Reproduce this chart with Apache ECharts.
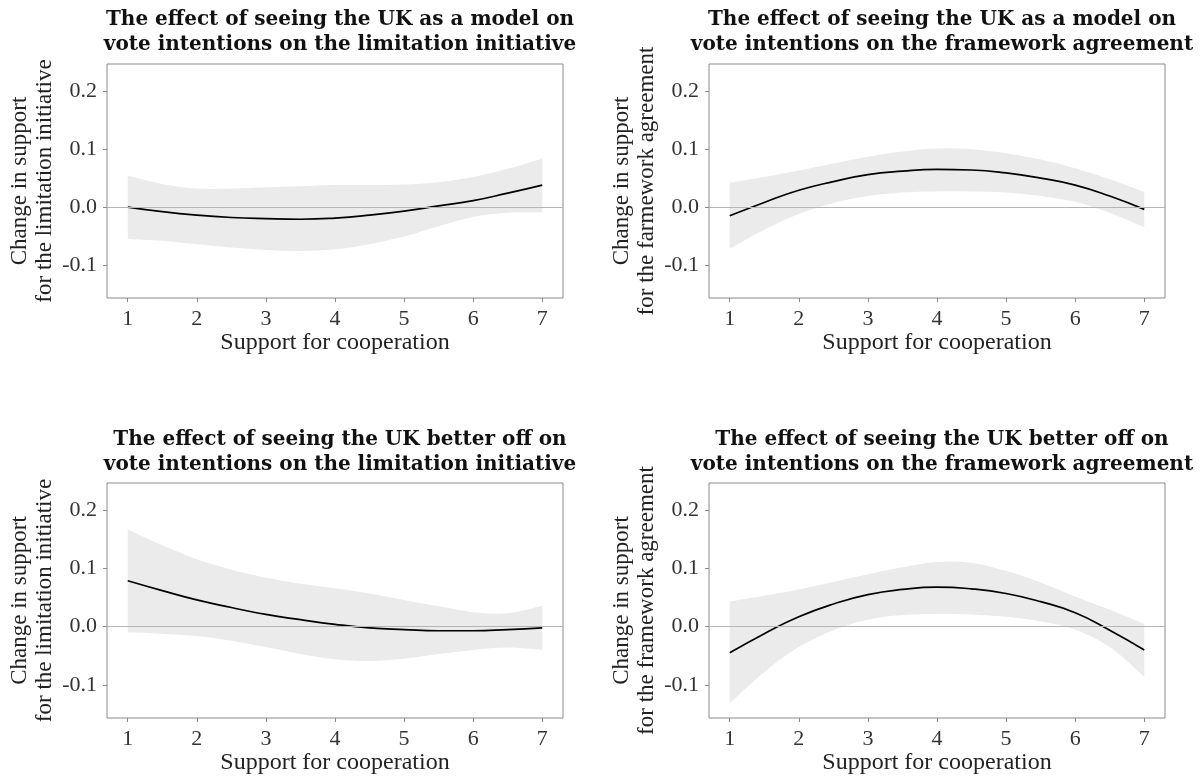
<!DOCTYPE html>
<html>
<head>
<meta charset="utf-8">
<script src="https://cdn.jsdelivr.net/npm/echarts@6/dist/echarts.min.js"></script>
<style>
html,body{margin:0;padding:0;background:#fff;}
#c{width:1202px;height:776px;}
</style>
</head>
<body>
<div id="c"></div>
<script>
// ---- data ----
const xs = [1, 1.5, 2, 2.5, 3, 3.5, 4, 4.5, 5, 5.5, 6, 6.5, 7];
const xTicks = [1, 2, 3, 4, 5, 6, 7];
const yTicks = [-0.1, 0, 0.1, 0.2];

const titles = [
  "The effect of seeing the UK as a model on\nvote intentions on the limitation initiative",
  "The effect of seeing the UK as a model on\nvote intentions on the framework agreement",
  "The effect of seeing the UK better off on\nvote intentions on the limitation initiative",
  "The effect of seeing the UK better off on\nvote intentions on the framework agreement"
];
const yNames = [
  "Change in support\nfor the limitation initiative",
  "Change in support\nfor the farmework agreement",
  "Change in support\nfor the limitation initiative",
  "Change in support\nfor the framework agreement"
];
const xName = "Support for cooperation";

// panel 1: UK as a model, limitation initiative
const fit1   = [0.000,-0.008,-0.014,-0.018,-0.020,-0.021,-0.019,-0.014,-0.007,0.002,0.011,0.024,0.038];
const upper1 = [0.054,0.040,0.032,0.032,0.034,0.036,0.038,0.038,0.039,0.043,0.052,0.066,0.084];
const lower1 = [-0.055,-0.058,-0.064,-0.070,-0.074,-0.076,-0.073,-0.064,-0.051,-0.033,-0.017,-0.010,-0.009];
// panel 2: UK as a model, framework agreement
const fit2   = [-0.015,0.008,0.029,0.044,0.056,0.062,0.065,0.064,0.059,0.050,0.038,0.019,-0.004];
const upper2 = [0.042,0.052,0.063,0.075,0.087,0.096,0.101,0.100,0.093,0.082,0.067,0.048,0.026];
const lower2 = [-0.072,-0.039,-0.012,0.007,0.019,0.025,0.027,0.027,0.025,0.019,0.009,-0.010,-0.035];
// panel 3: UK better off, limitation initiative
const fit3   = [0.079,0.062,0.046,0.033,0.021,0.012,0.004,-0.002,-0.005,-0.007,-0.007,-0.005,-0.002];
const upper3 = [0.167,0.140,0.116,0.098,0.084,0.074,0.066,0.057,0.046,0.035,0.025,0.023,0.036];
const lower3 = [-0.010,-0.012,-0.016,-0.024,-0.035,-0.047,-0.056,-0.059,-0.055,-0.047,-0.040,-0.036,-0.040];
// panel 4: UK better off, framework agreement
const fit4   = [-0.045,-0.012,0.017,0.039,0.055,0.064,0.068,0.065,0.057,0.043,0.024,-0.006,-0.040];
const upper4 = [0.043,0.053,0.064,0.077,0.090,0.102,0.111,0.110,0.096,0.076,0.052,0.029,0.005];
const lower4 = [-0.132,-0.078,-0.035,-0.006,0.012,0.020,0.022,0.021,0.017,0.009,-0.005,-0.035,-0.086];

const fits = [fit1, fit2, fit3, fit4];
const uppers = [upper1, upper2, upper3, upper4];
const lowers = [lower1, lower2, lower3, lower4];

// ---- layout ----
const FONT = "'Liberation Serif', serif";
const TFONT = "'DejaVu Serif', serif";
const grids = [
  {left: 107, top: 64, width: 456, height: 234},
  {left: 709, top: 64, width: 456, height: 234},
  {left: 107, top: 483, width: 456, height: 235},
  {left: 709, top: 483, width: 456, height: 235}
];
const titleTops = [3, 3, 423, 423];

// smooth path through pixel points (Catmull-Rom as cubic Bezier)
function curvePath(pts) {
  let s = '';
  const n = pts.length;
  for (let k = 0; k < n - 1; k++) {
    const p0 = pts[Math.max(k - 1, 0)], p1 = pts[k], p2 = pts[k + 1], p3 = pts[Math.min(k + 2, n - 1)];
    const c1 = [p1[0] + (p2[0] - p0[0]) / 6, p1[1] + (p2[1] - p0[1]) / 6];
    const c2 = [p2[0] - (p3[0] - p1[0]) / 6, p2[1] - (p3[1] - p1[1]) / 6];
    s += ' C' + c1[0] + ',' + c1[1] + ' ' + c2[0] + ',' + c2[1] + ' ' + p2[0] + ',' + p2[1];
  }
  return s;
}

const option = {
  animation: false,
  backgroundColor: '#ffffff',
  title: [], grid: [], xAxis: [], yAxis: [], series: []
};

for (let i = 0; i < 4; i++) {
  const g = grids[i];
  option.grid.push(Object.assign({show: true, borderColor: '#8a8a8a', borderWidth: 1, backgroundColor: '#fff'}, g));
  option.title.push({
    text: titles[i],
    left: g.left + g.width / 2,
    top: titleTops[i],
    textAlign: 'center',
    textStyle: {fontFamily: TFONT, fontWeight: 'bold', fontSize: 20, lineHeight: 24.5, color: '#111'}
  });
  option.xAxis.push({
    type: 'value', gridIndex: i, min: 0.7, max: 7.3,
    name: xName, nameLocation: 'middle', nameGap: 33,
    nameTextStyle: {fontFamily: FONT, fontSize: 24, color: '#222'},
    axisLine: {show: false, onZero: false},
    axisTick: {show: true, length: 4, customValues: xTicks, lineStyle: {color: '#8a8a8a'}},
    axisLabel: {customValues: xTicks, margin: 10, fontFamily: FONT, fontSize: 22, color: '#333',
      formatter: v => String(v)},
    splitLine: {show: false}
  });
  option.yAxis.push({
    type: 'value', gridIndex: i, min: -0.157, max: 0.247,
    name: yNames[i], nameLocation: 'middle', nameRotate: 90, nameGap: 50,
    nameTextStyle: {fontFamily: FONT, fontSize: 23, lineHeight: 25, color: '#222'},
    axisLine: {show: false, onZero: false},
    axisTick: {show: true, length: 4, customValues: yTicks, lineStyle: {color: '#8a8a8a'}},
    axisLabel: {customValues: yTicks, margin: 10, fontFamily: FONT, fontSize: 22, color: '#333',
      formatter: v => v.toFixed(1)},
    splitLine: {show: false}
  });
  const bandData = xs.map((x, k) => [x, lowers[i][k], uppers[i][k]]);
  option.series.push({
    type: 'custom', xAxisIndex: i, yAxisIndex: i, silent: true, z: 1,
    encode: {x: 0, y: [1, 2]},
    data: bandData,
    renderItem: function (params, api) {
      if (params.dataIndex !== 0) return null;
      const up = bandData.map(d => api.coord([d[0], d[2]]));
      const lo = bandData.map(d => api.coord([d[0], d[1]])).reverse();
      const path = 'M' + up[0][0] + ',' + up[0][1] + curvePath(up) +
        ' L' + lo[0][0] + ',' + lo[0][1] + curvePath(lo) + ' Z';
      return {type: 'path', shape: {pathData: path}, style: {fill: '#ebebeb', stroke: null}};
    }
  });
  option.series.push({
    type: 'line', xAxisIndex: i, yAxisIndex: i,
    data: xs.map((x, k) => [x, fits[i][k]]),
    smooth: true, symbol: 'none', lineStyle: {color: '#000', width: 1.7}, z: 3,
    markLine: {silent: true, symbol: 'none', label: {show: false},
      lineStyle: {color: '#b5b5b5', width: 1, type: 'solid'},
      data: [{yAxis: 0}]}
  });
}

const chart = echarts.init(document.getElementById('c'), null, {renderer: 'canvas'});
chart.setOption(option);
</script>
</body>
</html>
